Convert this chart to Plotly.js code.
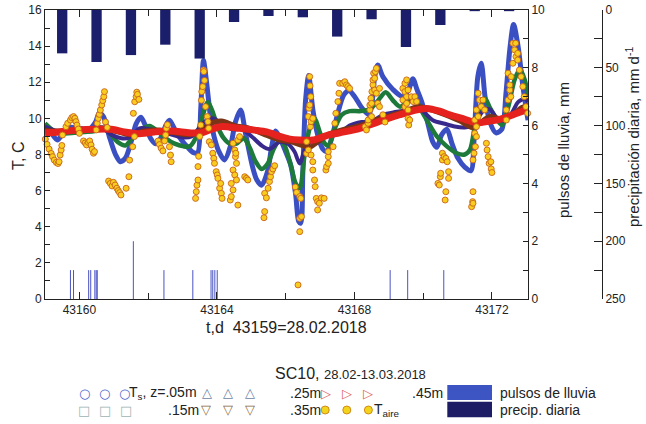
<!DOCTYPE html>
<html>
<head>
<meta charset="utf-8">
<script src="https://cdn.plot.ly/plotly-3.0.1.min.js"></script>
<style>html,body{margin:0;padding:0;background:#fff;}#chart{width:646px;height:424px;}</style>
</head>
<body>
<div id="chart"></div>
<script>
// ---------- data ----------
const rainDays = [43159.5,43160.5,43161.5,43162.5,43163.5,43164.5,43165.5,43166.5,43167.5,43168.5,43169.5,43170.5,43171.5,43172.5];
const rainMm   = [37.5,45,39,30,42,10.4,5.2,6.3,23,8,32,13,1,1];

const pulseDays = [43159.74,43159.83,43160.27,43160.33,43160.45,43160.49,43160.52,43161.57,43162.46,43163.30,43163.83,43163.88,43163.94,43164.01,43169.04,43169.55,43170.60];
const pulseMm   = [1,1,1,1,1,1,1,2,1,1,1,1,1,1,1,1,1];

const t05Days = [43159.00,43159.18,43159.36,43159.53,43159.71,43160.00,43160.29,43160.47,43160.58,43160.70,43160.87,43161.05,43161.19,43161.34,43161.52,43161.65,43161.79,43161.92,43162.07,43162.21,43162.39,43162.51,43162.62,43162.80,43162.97,43163.15,43163.32,43163.44,43163.53,43163.61,43163.70,43163.82,43163.93,43164.05,43164.22,43164.40,43164.54,43164.69,43164.84,43165.04,43165.16,43165.30,43165.48,43165.59,43165.71,43165.83,43165.97,43166.15,43166.29,43166.38,43166.44,43166.50,43166.58,43166.67,43166.79,43166.93,43167.08,43167.19,43167.34,43167.52,43167.69,43167.84,43168.01,43168.21,43168.42,43168.51,43168.59,43168.68,43168.83,43169.12,43169.41,43169.58,43169.70,43169.82,43169.96,43170.14,43170.28,43170.40,43170.54,43170.69,43170.84,43171.01,43171.21,43171.39,43171.48,43171.59,43171.69,43171.80,43171.94,43172.12,43172.29,43172.41,43172.52,43172.63,43172.76,43172.90,43173.05];
const t05Vals = [9.63,9.2,8.8,9.2,9.5,9.45,9.4,9.8,10.3,10.1,9.0,8.0,7.6,7.8,8.8,9.7,10.06,9.6,8.9,8.6,9.0,9.6,9.9,9.3,8.8,8.4,8.1,8.1,10.5,13.2,12.0,10.0,8.9,8.2,7.7,8.5,9.8,10.46,9.1,7.3,6.6,6.3,7.1,8.4,9.3,8.9,8.3,7.4,5.8,4.3,4.2,7.0,11.0,12.37,10.5,9.1,8.3,8.16,8.9,10.3,11.3,11.55,11.2,10.6,10.2,10.8,12.3,12.96,12.3,11.6,11.2,11.6,12.2,11.6,10.9,9.7,8.7,8.4,9.1,9.4,8.6,7.8,7.3,7.1,8.8,12.3,13.05,11.2,9.8,9.2,9.4,11.4,13.8,15.2,14.0,11.8,9.9];

const t15Days = [43159.00,43159.27,43159.56,43159.85,43160.15,43160.44,43160.67,43160.87,43161.11,43161.34,43161.57,43161.81,43162.04,43162.27,43162.51,43162.77,43163.03,43163.21,43163.38,43163.55,43163.73,43163.85,43164.02,43164.20,43164.37,43164.57,43164.78,43164.95,43165.13,43165.30,43165.48,43165.65,43165.83,43165.97,43166.15,43166.29,43166.41,43166.55,43166.70,43166.84,43166.99,43167.14,43167.25,43167.43,43167.63,43167.86,43168.16,43168.45,43168.65,43168.91,43169.12,43169.32,43169.55,43169.76,43169.93,43170.11,43170.40,43170.69,43170.98,43171.21,43171.36,43171.56,43171.80,43171.94,43172.09,43172.29,43172.47,43172.67,43172.82,43172.96,43173.05];
const t15Vals = [9.73,9.3,9.17,9.2,9.25,9.3,9.5,9.2,8.7,8.5,9.0,9.4,9.58,9.3,8.9,8.6,8.45,8.45,8.9,9.9,10.9,10.5,9.55,8.9,8.6,8.6,8.9,8.4,7.6,7.2,7.5,8.3,8.8,8.5,7.4,6.4,6.13,7.97,9.45,10.0,9.26,8.6,8.5,9.45,10.2,10.4,10.4,10.5,10.9,11.45,11.0,10.65,10.9,11.1,10.5,9.9,9.0,8.45,8.07,8.0,8.25,10.1,11.1,10.6,10.1,9.63,10.6,12.2,12.7,12.1,11.2];

const t25Days = [43159.00,43159.36,43159.71,43160.06,43160.35,43160.64,43160.93,43161.22,43161.46,43161.75,43162.04,43162.33,43162.68,43162.97,43163.26,43163.50,43163.70,43163.90,43164.14,43164.43,43164.72,43165.01,43165.30,43165.53,43165.83,43166.06,43166.26,43166.41,43166.58,43166.79,43167.05,43167.28,43167.57,43167.86,43168.21,43168.51,43168.83,43169.18,43169.53,43169.82,43170.05,43170.28,43170.63,43170.92,43171.21,43171.45,43171.74,43171.94,43172.17,43172.38,43172.58,43172.76,43172.96,43173.05];
const t25Vals = [9.55,9.3,9.3,9.35,9.45,9.5,9.1,8.9,8.95,9.45,9.4,9.3,9.1,8.95,9.0,9.5,9.9,10.0,9.7,9.4,9.4,9.0,8.5,8.3,8.7,8.6,8.15,7.5,8.4,8.8,8.9,9.05,9.2,9.6,9.8,9.85,10.2,10.35,10.45,10.6,10.3,9.9,9.7,9.55,9.5,9.6,10.4,10.5,9.95,9.9,10.3,10.9,11.1,10.9];

const t35Days = [43159.00,43159.42,43160.00,43160.58,43161.02,43161.46,43161.89,43162.33,43162.77,43163.21,43163.58,43163.85,43164.14,43164.52,43164.95,43165.39,43165.83,43166.17,43166.47,43166.70,43166.93,43167.28,43167.72,43168.16,43168.59,43169.03,43169.47,43169.84,43170.19,43170.63,43171.07,43171.42,43171.65,43171.94,43172.23,43172.58,43172.87,43173.05];
const t35Vals = [9.35,9.3,9.35,9.45,9.3,9.1,9.3,9.35,9.2,9.1,9.4,9.75,9.85,9.6,9.45,9.1,8.8,8.7,8.5,8.4,8.7,9.15,9.4,9.6,9.9,10.15,10.4,10.65,10.5,10.2,9.85,9.5,9.75,10.1,10.0,10.2,10.6,10.7];

const t45Days = [43159.00,43159.42,43159.94,43160.44,43160.93,43161.31,43161.69,43162.18,43162.68,43163.21,43163.55,43163.85,43164.14,43164.66,43165.10,43165.45,43165.83,43166.12,43166.41,43166.79,43167.19,43167.57,43168.16,43168.83,43169.32,43169.82,43170.11,43170.48,43170.77,43171.21,43171.56,43171.94,43172.23,43172.73,43173.05];
const t45Vals = [9.2,9.25,9.35,9.4,9.4,9.25,9.15,9.25,9.3,9.2,9.2,9.4,9.55,9.45,9.35,9.25,9.0,8.85,8.8,8.8,9.05,9.2,9.45,9.9,10.2,10.47,10.55,10.4,10.2,9.95,9.75,9.85,9.95,10.28,10.5];

const airDays = [43159.01,43159.06,43159.12,43159.18,43159.22,43159.27,43159.33,43159.38,43159.41,43159.44,43159.47,43159.49,43159.51,43159.61,43159.66,43159.74,43159.78,43159.83,43159.87,43159.90,43159.93,43159.97,43160.00,43160.12,43160.17,43160.21,43160.26,43160.30,43160.34,43160.37,43160.41,43160.44,43160.49,43160.52,43160.55,43160.58,43160.61,43160.65,43160.68,43160.71,43160.73,43160.76,43160.81,43160.85,43160.90,43160.95,43160.99,43161.04,43161.09,43161.13,43161.17,43161.21,43161.36,43161.44,43161.46,43161.55,43161.57,43161.60,43161.61,43161.65,43161.67,43161.69,43161.73,43162.29,43162.33,43162.38,43162.43,43162.48,43162.51,43162.53,43162.56,43162.62,43162.65,43162.67,43163.38,43163.40,43163.42,43163.45,43163.45,43163.47,43163.50,43163.53,43163.55,43163.56,43163.59,43163.61,43163.62,43163.64,43163.67,43163.72,43163.74,43163.76,43163.78,43163.84,43163.88,43163.91,43163.93,43163.98,43164.01,43164.03,43164.08,43164.11,43164.13,43164.15,43164.39,43164.42,43164.42,43164.47,43164.47,43164.47,43164.52,43164.52,43164.54,43164.55,43164.57,43164.57,43164.61,43164.61,43164.66,43164.81,43164.86,43164.90,43165.37,43165.39,43165.39,43165.44,43165.49,43165.53,43165.56,43165.59,43165.63,43165.68,43166.28,43166.32,43166.36,43166.41,43166.41,43166.41,43166.44,43166.46,43166.61,43166.61,43166.66,43166.66,43166.68,43166.70,43166.70,43166.71,43166.72,43166.73,43166.74,43166.74,43166.79,43166.79,43166.79,43166.84,43166.86,43166.89,43166.93,43166.93,43166.98,43167.04,43167.12,43167.17,43167.19,43167.24,43167.24,43167.24,43167.38,43167.43,43167.46,43167.52,43167.55,43167.57,43167.66,43167.72,43167.77,43167.81,43167.86,43168.31,43168.35,43168.40,43168.40,43168.45,43168.45,43168.48,43168.50,43168.50,43168.51,43168.54,43168.54,43168.56,43168.59,43168.61,43168.64,43168.59,43168.64,43168.68,43168.73,43168.73,43168.83,43168.89,43169.41,43169.41,43169.47,43169.47,43169.47,43169.52,43169.52,43169.52,43169.56,43169.56,43169.56,43169.58,43169.61,43169.66,43169.71,43169.76,43169.81,43170.43,43170.47,43170.50,43170.51,43170.56,43170.56,43170.61,43170.64,43170.66,43170.66,43170.70,43170.74,43170.74,43171.41,43171.44,43171.45,43171.45,43171.45,43171.48,43171.50,43171.52,43171.55,43171.55,43171.50,43171.55,43171.60,43171.60,43171.64,43171.69,43171.74,43171.79,43171.84,43171.86,43171.89,43171.92,43171.97,43171.98,43172.00,43172.42,43172.42,43172.47,43172.47,43172.52,43172.52,43172.55,43172.56,43172.61,43172.61,43172.66,43172.69,43172.70,43172.75,43172.75,43172.80,43172.85,43172.90,43172.94,43172.99,43173.04,43173.11,43173.19,43173.29,43173.38,43173.48,43173.53,43173.61,43173.66];
const airVals = [8.85,8.56,8.30,8.06,7.88,7.69,7.56,7.50,7.60,7.97,8.25,8.50,9.08,9.54,9.73,9.91,10.04,10.10,10.00,9.82,9.63,9.41,9.17,8.75,8.64,8.53,8.67,8.75,8.53,8.29,8.07,8.16,9.36,9.73,10.00,10.22,10.46,10.74,10.98,11.20,11.48,9.80,9.50,6.53,6.40,6.26,6.46,6.31,6.13,6.00,5.89,5.76,6.13,6.77,7.69,8.43,10.28,8.99,10.92,11.20,11.45,11.33,11.05,8.75,8.55,8.35,8.20,8.75,9.08,9.45,9.65,8.43,7.97,7.60,5.57,5.94,6.30,6.59,7.33,7.90,9.00,9.63,11.00,11.48,11.76,12.68,12.59,12.10,10.65,10.10,9.82,9.45,8.71,8.53,8.07,7.79,7.51,7.05,6.87,6.68,6.13,6.40,5.85,5.57,5.48,5.67,6.40,6.04,7.14,8.62,6.87,8.25,7.88,8.07,6.59,7.51,5.20,8.80,8.99,6.77,6.68,6.59,4.50,4.84,5.85,5.60,6.13,6.50,6.77,7.05,7.20,7.38,6.20,5.90,0.78,3.73,4.47,5.67,5.57,4.56,8.06,8.71,8.25,10.10,10.56,10.74,12.31,11.80,9.54,11.20,9.82,7.97,7.60,7.14,10.00,6.59,6.22,5.57,5.39,4.93,5.30,5.60,5.57,7.14,7.33,7.51,7.88,8.16,8.43,9.73,10.28,10.93,11.39,11.94,11.94,12.03,11.85,11.76,11.66,9.54,9.36,9.73,9.91,10.47,10.74,11.11,10.10,10.83,11.48,11.85,12.13,12.50,12.22,12.59,12.77,11.57,11.39,10.83,10.65,11.66,10.20,9.80,11.02,11.66,11.48,11.94,10.65,12.13,11.20,10.83,11.57,10.00,10.47,9.63,9.91,11.20,10.93,11.20,10.93,6.40,6.31,6.77,6.96,7.70,8.07,7.88,5.48,7.79,5.94,7.60,7.05,6.68,5.11,5.39,5.94,5.30,7.70,8.07,9.17,8.43,8.99,9.54,9.91,10.47,10.10,11.39,11.02,10.65,11.02,10.47,8.62,8.25,7.88,7.51,7.60,7.20,7.00,10.47,9.91,11.02,12.50,11.57,11.85,11.20,12.31,13.05,14.16,13.79,14.16,13.42,13.60,13.23,12.68,12.31,11.76,11.20,10.65,10.28,9.70,9.45,9.45,9.50,9.60,10.10,10.46,10.65];

// ---------- layout helpers ----------
const W = 646, H = 424;
const px = v => v / W;
const py = v => 1 - v / H;
const FONT = 'Arial, Liberation Sans, sans-serif';

// pulse stems built from the pulse arrays
const pulseX = [], pulseY = [];
pulseDays.forEach((d, i) => { pulseX.push(d, d, null); pulseY.push(0, pulseMm[i], null); });

function soil(x, y, color, width, name) {
  return {type: 'scatter', mode: 'lines', x: x, y: y, xaxis: 'x', yaxis: 'y', name: name,
          line: {color: color, width: width, shape: 'spline', smoothing: 0.8}, hoverinfo: 'skip'};
}

const traces = [
  soil(t05Days, t05Vals, '#3a4fc2', 5, 'Ts z=.05m'),
  soil(t15Days, t15Vals, '#1d7a3a', 4.5, '.15m'),
  soil(t25Days, t25Vals, '#38298c', 4, '.25m'),
  soil(t35Days, t35Vals, '#7a3416', 5, '.35m'),
  soil(t45Days, t45Vals, '#e6221e', 7, '.45m'),
  {type: 'scatter', mode: 'markers', x: airDays, y: airVals, xaxis: 'x', yaxis: 'y', name: 'T aire',
   cliponaxis: false,
   marker: {size: 6, color: '#f8cd1e', line: {color: '#c8621c', width: 0.9}}},
  {type: 'scatter', mode: 'lines', x: pulseX, y: pulseY, xaxis: 'x', yaxis: 'y2', name: 'pulsos de lluvia',
   line: {color: '#4a54c4', width: 1}, connectgaps: false},
  {type: 'bar', x: rainDays, y: rainMm, xaxis: 'x', yaxis: 'y3', name: 'precip. diaria',
   width: 0.3, marker: {color: '#1b1e6b', line: {width: 0}}}
];

const tickFont = {family: FONT, size: 12, color: '#222'};
const axLine = {showline: true, linecolor: '#222', linewidth: 1, showgrid: false, zeroline: false};

const ann = [];
function txt(text, x, y, opt) {
  ann.push(Object.assign({text: text, x: px(x), y: py(y), xref: 'paper', yref: 'paper',
    showarrow: false, xanchor: 'center', yanchor: 'middle',
    font: {family: FONT, size: 14, color: '#222'}}, opt || {}));
}
// axis titles
txt('T, C', 18, 156, {textangle: -90, font: {family: FONT, size: 16, color: '#222'}});
txt('pulsos de lluvia, mm', 563, 150, {textangle: -90, font: {family: FONT, size: 15, color: '#222'}});
txt('precipitación diaria, mm d<sup>-1</sup>', 632, 137, {textangle: -90, font: {family: FONT, size: 15, color: '#222'}});
txt('t,d\u00a0\u00a043159=28.02.2018', 286, 327, {font: {family: FONT, size: 16, color: '#222'}});
// legend
const R1 = 393, R2 = 410;
txt('SC10, <span style="font-size:13px">28.02-13.03.2018</span>', 350, 373, {font: {family: FONT, size: 16, color: '#222'}});
const symFont = (c) => ({family: 'DejaVu Sans, sans-serif', size: 13, color: c});
[84.2, 104.7, 124.1].forEach(x => txt('○', x, R1, {font: symFont('#4a64cc')}));
txt('T<sub>s</sub>, z=.05m', 127, R1, {xanchor: 'left'});
[207, 227.6, 250].forEach(x => txt('△', x, R1 - 1, {font: symFont('#6f7fa6')}));
txt('.25m', 288, R1, {xanchor: 'left'});
[325.5, 346.8, 368.4].forEach(x => txt('▷', x, R1, {font: symFont('#e0625c')}));
txt('.45m', 410, R1, {xanchor: 'left'});
txt('pulsos de lluvia', 497.6, R1, {xanchor: 'left'});
[84.2, 105.4, 126.3].forEach(x => txt('□', x, R2, {font: symFont('#9db3b3')}));
txt('.15m', 166, R2, {xanchor: 'left'});
[206.4, 228.3, 250].forEach(x => txt('▽', x, R2 - 1, {font: symFont('#8b6a3c')}));
txt('.35m', 288, R2, {xanchor: 'left'});
txt('T<sub>aire</sub>', 372, R2, {xanchor: 'left'});
txt('precip. diaria', 497.6, R2, {xanchor: 'left'});

const shapes = [
  {type: 'rect', xref: 'paper', yref: 'paper', x0: px(447.3), x1: px(492), y0: py(400), y1: py(385),
   fillcolor: '#3c55c2', line: {width: 0}},
  {type: 'rect', xref: 'paper', yref: 'paper', x0: px(447.3), x1: px(492), y0: py(417.3), y1: py(401.7),
   fillcolor: '#1d1d66', line: {width: 0}}
];
[325.2, 346.8, 368.4].forEach(x => shapes.push({type: 'circle', xref: 'paper', yref: 'paper',
  x0: px(x - 4), x1: px(x + 4), y0: py(R2 + 4), y1: py(R2 - 4),
  fillcolor: '#f2d41c', line: {color: '#d08a1a', width: 1}}));

const layout = {
  width: W, height: H,
  margin: {l: 0, r: 0, t: 0, b: 0},
  paper_bgcolor: '#fff', plot_bgcolor: 'rgba(0,0,0,0)',
  showlegend: false,
  font: {family: FONT, color: '#222'},
  xaxis: Object.assign({domain: [px(45), px(528)], range: [43159, 43173.05], anchor: 'y',
    tick0: 43160, dtick: 4, tickformat: 'd', ticks: 'inside', ticklen: 7, tickcolor: '#222',
    mirror: 'ticks', tickfont: tickFont,
    minor: {dtick: 2, tick0: 43160, ticks: 'inside', ticklen: 6, tickcolor: '#222'}}, axLine),
  yaxis: Object.assign({domain: [py(299), py(10)], range: [0, 16], anchor: 'x',
    dtick: 2, ticks: 'inside', ticklen: 5, tickcolor: '#222', tickfont: tickFont,
    minor: {dtick: 1, ticks: 'inside', ticklen: 5, tickcolor: '#222'}}, axLine),
  yaxis2: Object.assign({overlaying: 'y', side: 'right', anchor: 'x', range: [0, 10],
    dtick: 2, ticks: 'inside', ticklen: 5, tickcolor: '#222', tickfont: tickFont,
    minor: {dtick: 1, ticks: 'inside', ticklen: 5, tickcolor: '#222'}}, axLine),
  yaxis3: Object.assign({overlaying: 'y', side: 'right', anchor: 'free', position: px(602),
    range: [250, 0], dtick: 50, ticks: 'inside', ticklen: 8, tickcolor: '#222', tickfont: tickFont,
    minor: {dtick: 25, ticks: 'inside', ticklen: 8, tickcolor: '#222'}}, axLine),
  annotations: ann,
  shapes: shapes
};

Plotly.newPlot('chart', traces, layout, {staticPlot: true, displayModeBar: false});
</script>
</body>
</html>
